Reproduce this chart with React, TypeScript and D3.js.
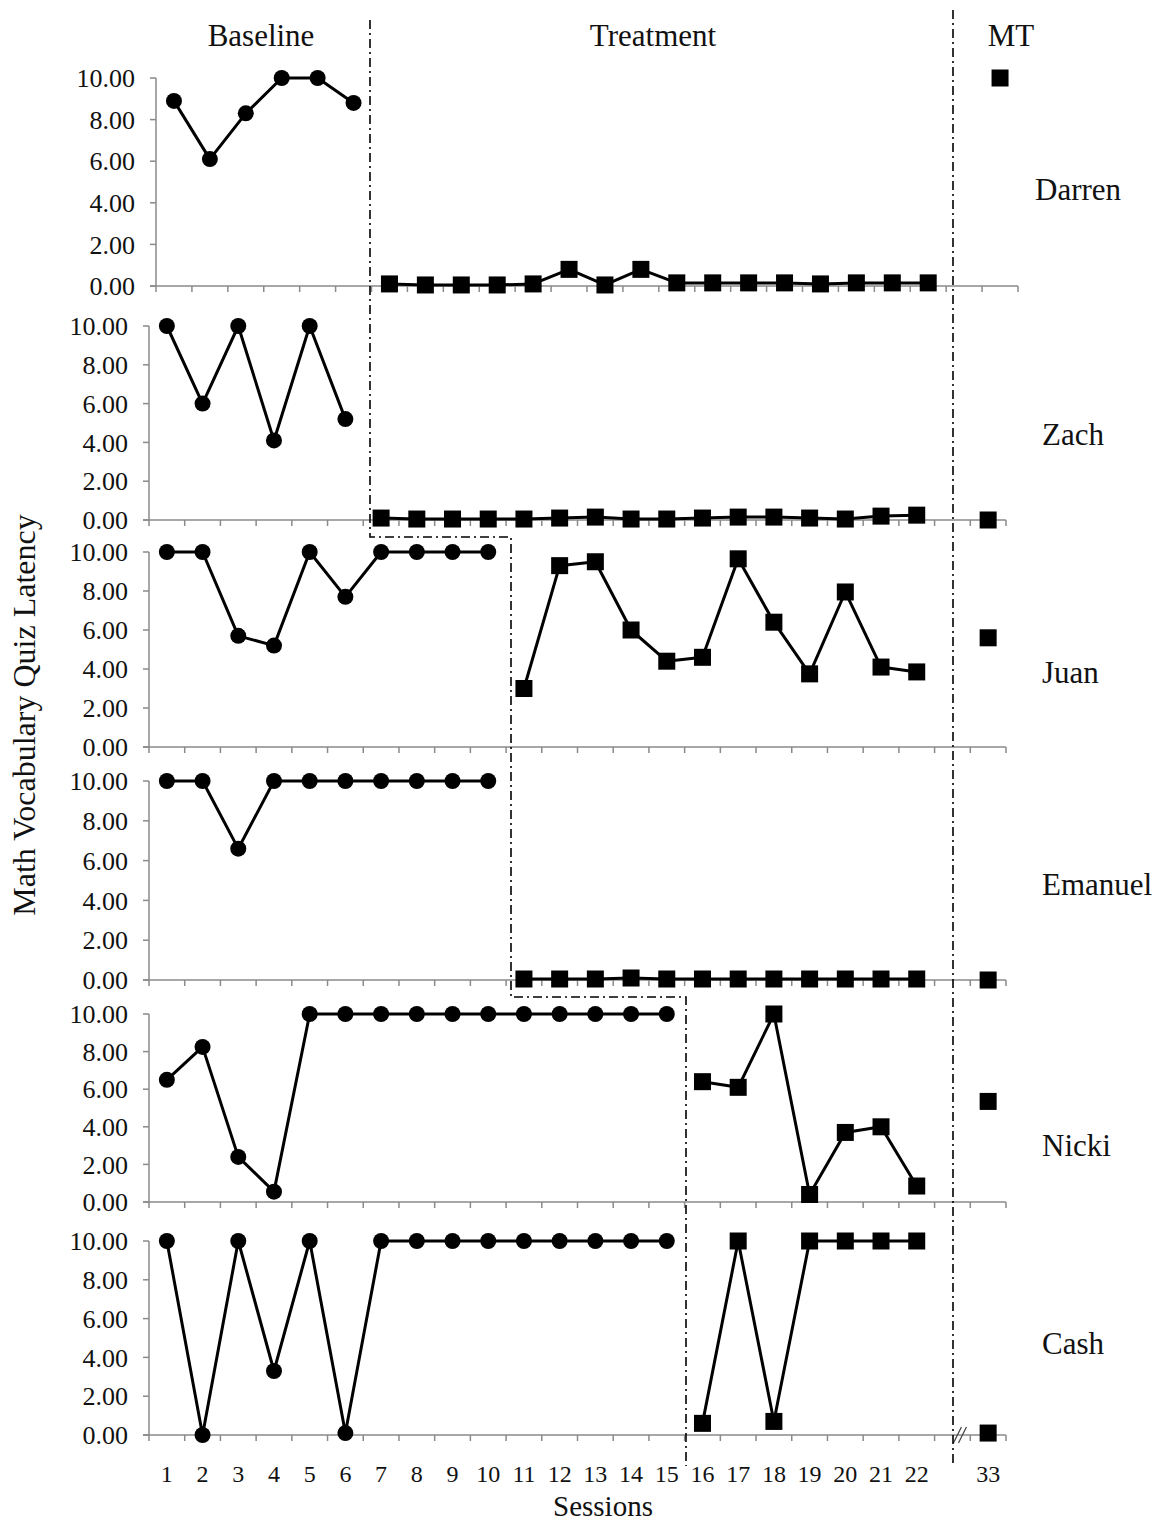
import React from "react";
import * as d3 from "d3";

// ---- data ----
const sessionLabels = ["1","2","3","4","5","6","7","8","9","10","11","12","13","14","15","16","17","18","19","20","21","22","","33"];
const yTicks = [0, 2, 4, 6, 8, 10];
const phaseLabels = ["Baseline", "Treatment", "MT"];
const participants = ["Darren", "Zach", "Juan", "Emanuel", "Nicki", "Cash"];

const darrenBaseline = [8.9, 6.1, 8.3, 10, 10, 8.8];
const darrenTreatment = [0.1, 0.05, 0.05, 0.05, 0.1, 0.8, 0.05, 0.8, 0.15, 0.15, 0.15, 0.15, 0.1, 0.15, 0.15, 0.15];
const darrenMT = 10;

const zachBaseline = [10, 6.0, 10, 4.1, 10, 5.2];
const zachTreatment = [0.1, 0.05, 0.05, 0.05, 0.05, 0.1, 0.15, 0.05, 0.05, 0.1, 0.15, 0.15, 0.1, 0.05, 0.2, 0.25];
const zachMT = 0;

const juanBaseline = [10, 10, 5.7, 5.2, 10, 7.7, 10, 10, 10, 10];
const juanTreatment = [3.0, 9.3, 9.5, 6.0, 4.4, 4.6, 9.65, 6.4, 3.75, 7.95, 4.1, 3.85];
const juanMT = 5.6;

const emanuelBaseline = [10, 10, 6.6, 10, 10, 10, 10, 10, 10, 10];
const emanuelTreatment = [0.05, 0.05, 0.05, 0.1, 0.05, 0.05, 0.05, 0.05, 0.05, 0.05, 0.05, 0.05];
const emanuelMT = 0;

const nickiBaseline = [6.5, 8.25, 2.4, 0.55, 10, 10, 10, 10, 10, 10, 10, 10, 10, 10, 10];
const nickiTreatment = [6.4, 6.1, 10, 0.4, 3.7, 4.0, 0.85];
const nickiMT = 5.35;

const cashBaseline = [10, 0, 10, 3.3, 10, 0.1, 10, 10, 10, 10, 10, 10, 10, 10, 10];
const cashTreatment = [0.6, 10, 0.7, 10, 10, 10, 10];
const cashMT = 0.1;

const series = [
  { baseline: darrenBaseline, treatment: darrenTreatment, mt: darrenMT },
  { baseline: zachBaseline, treatment: zachTreatment, mt: zachMT },
  { baseline: juanBaseline, treatment: juanTreatment, mt: juanMT },
  { baseline: emanuelBaseline, treatment: emanuelTreatment, mt: emanuelMT },
  { baseline: nickiBaseline, treatment: nickiTreatment, mt: nickiMT },
  { baseline: cashBaseline, treatment: cashTreatment, mt: cashMT },
];

// ---- layout ----
const W = 1161, H = 1521;
const FONT = "'Liberation Serif', 'Times New Roman', serif";
const panels = [
  { top: 78, bottom: 286, left: 156, right: 1018, nameX: 1035, nameY: 200 },
  { top: 326, bottom: 520, left: 149, right: 1006, nameX: 1042, nameY: 445 },
  { top: 552, bottom: 747, left: 149, right: 1006, nameX: 1042, nameY: 683 },
  { top: 781, bottom: 980, left: 149, right: 1006, nameX: 1042, nameY: 895 },
  { top: 1014, bottom: 1202, left: 149, right: 1006, nameX: 1042, nameY: 1156 },
  { top: 1241, bottom: 1435, left: 149, right: 1006, nameX: 1042, nameY: 1354 },
];
const DASH = "9,4,2,4";
const AXIS = "#8a8a8a";

function Panel({ idx }: { idx: number }) {
  const p = panels[idx];
  const s = series[idx];
  const x = d3.scaleBand<string>().domain(sessionLabels.map((_, i) => String(i))).range([p.left, p.right]).paddingInner(0).paddingOuter(0);
  const bw = x.bandwidth();
  const cx = (slot: number) => (x(String(slot)) as number) + bw / 2;
  const y = d3.scaleLinear().domain([0, 10]).range([p.bottom, p.top]);
  const line = d3.line<[number, number]>().x((d) => d[0]).y((d) => d[1]);

  const bStart = 0;
  const tStart = s.baseline.length;
  const bPts: [number, number][] = s.baseline.map((v, i) => [cx(bStart + i), y(v)]);
  const tPts: [number, number][] = s.treatment.map((v, i) => [cx(tStart + i), y(v)]);
  const mtPt: [number, number] = [cx(sessionLabels.length - 1), y(s.mt)];
  const boundaries = d3.range(sessionLabels.length + 1).map((i) => p.left + i * bw);
  const isLast = idx === panels.length - 1;
  const sq = 17;

  return (
    <g>
      {/* y axis */}
      <line x1={p.left} x2={p.left} y1={y(10)} y2={p.bottom} stroke={AXIS} strokeWidth={1.5} />
      {yTicks.map((t) => (
        <g key={t}>
          <line x1={p.left - 6} x2={p.left} y1={y(t)} y2={y(t)} stroke={AXIS} strokeWidth={1.5} />
          <text x={p.left - 21} y={y(t)} dy="0.35em" textAnchor="end" fontSize={26} fontFamily={FONT} fill="#111">
            {d3.format(".2f")(t)}
          </text>
        </g>
      ))}
      {/* x axis */}
      <line x1={p.left - 6} x2={p.right} y1={p.bottom} y2={p.bottom} stroke={AXIS} strokeWidth={1.5} />
      {boundaries.map((bx, i) => (
        <line key={i} x1={bx} x2={bx} y1={p.bottom} y2={p.bottom + 6} stroke={AXIS} strokeWidth={1.5} />
      ))}
      {isLast &&
        sessionLabels.map((l, i) => (
          <text key={i} x={cx(i)} y={p.bottom + 47} textAnchor="middle" fontSize={24} fontFamily={FONT} fill="#111">
            {l}
          </text>
        ))}
      {isLast && (
        <g stroke="#444" strokeWidth={1.3}>
          <line x1={cx(22) + 1} y1={p.bottom + 8} x2={cx(22) + 9} y2={p.bottom - 8} />
          <line x1={cx(22) + 6} y1={p.bottom + 8} x2={cx(22) + 14} y2={p.bottom - 8} />
        </g>
      )}
      {/* data lines */}
      <path d={line(bPts) || ""} fill="none" stroke="#000" strokeWidth={3} strokeLinejoin="round" />
      <path d={line(tPts) || ""} fill="none" stroke="#000" strokeWidth={3} strokeLinejoin="round" />
      {bPts.map((d, i) => (
        <circle key={"b" + i} cx={d[0]} cy={d[1]} r={8} fill="#000" />
      ))}
      {tPts.map((d, i) => (
        <rect key={"t" + i} x={d[0] - sq / 2} y={d[1] - sq / 2} width={sq} height={sq} fill="#000" />
      ))}
      <rect x={mtPt[0] - sq / 2} y={mtPt[1] - sq / 2} width={sq} height={sq} fill="#000" />
      <text x={p.nameX} y={p.nameY} fontSize={31} fontFamily={FONT} fill="#111">
        {participants[idx]}
      </text>
    </g>
  );
}

export default function App() {
  // phase change line path (multiple-baseline staircase)
  const stair = d3.path();
  stair.moveTo(370, 20);
  stair.lineTo(370, 537);
  stair.lineTo(511, 537);
  stair.lineTo(511, 997);
  stair.lineTo(686, 997);
  stair.lineTo(686, 1466);

  return (
    <svg width={W} height={H} style={{ position: "absolute", left: 0, top: 0, background: "#fff" }}>
      <rect width={W} height={H} fill="#fff" />
      <text x={261} y={46} textAnchor="middle" fontSize={31} fontFamily={FONT} fill="#111">{phaseLabels[0]}</text>
      <text x={653} y={46} textAnchor="middle" fontSize={31} fontFamily={FONT} fill="#111">{phaseLabels[1]}</text>
      <text x={1011} y={46} textAnchor="middle" fontSize={31} fontFamily={FONT} fill="#111">{phaseLabels[2]}</text>
      {panels.map((_, i) => (
        <Panel key={i} idx={i} />
      ))}
      <path d={stair.toString()} fill="none" stroke="#000" strokeWidth={1.6} strokeDasharray={DASH} />
      <line x1={953} x2={953} y1={10} y2={1466} stroke="#000" strokeWidth={1.6} strokeDasharray={DASH} />
      <text transform="translate(35,715) rotate(-90)" textAnchor="middle" fontSize={32} fontFamily={FONT} fill="#111">
        Math Vocabulary Quiz Latency
      </text>
      <text x={603} y={1516} textAnchor="middle" fontSize={29} fontFamily={FONT} fill="#111">Sessions</text>
    </svg>
  );
}
